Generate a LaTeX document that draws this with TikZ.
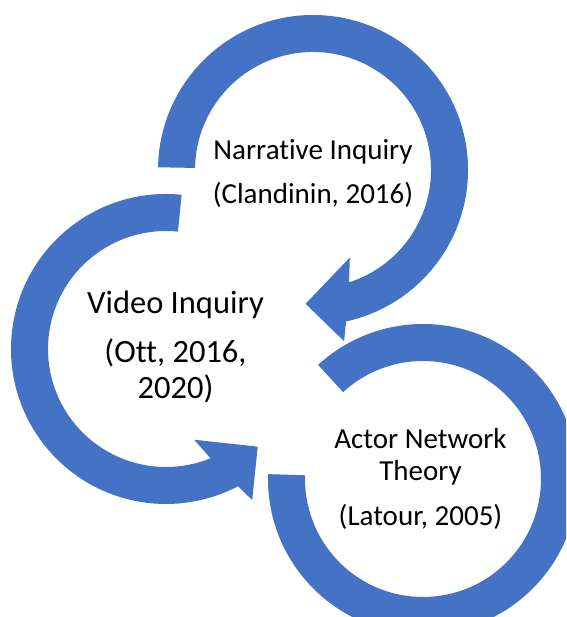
\documentclass[tikz,border=0pt]{standalone}
\usepackage{fontspec}
\setmainfont{Carlito}[Ligatures=CommonOff]
\begin{document}
\begin{tikzpicture}[x=1pt, y=1pt]
    \definecolor{cycblue}{RGB}{68,114,196}
    \tikzset{citetext/.style={font=\fontsize{29}{32}\selectfont, align=center, anchor=base}}

    \useasboundingbox (0,0) rectangle (566,617);
    \clip (0,0) rectangle (566,617);

    % circular arrows: centre x/y, start angle, outer end angle, turning sense
    \foreach \cx/\cy/\sa/\ea/\d in {313/447/179/-77.7/-1, 166/268/84.2/297.7/1} {
        \pgfmathsetmacro{\aw}{\ea+2*\d}
        \pgfmathsetmacro{\at}{\ea+15.5*\d}
        \pgfmathsetmacro{\ab}{\ea-10.5*\d}
        \pgfmathsetmacro{\ai}{\ea-5.5*\d}
        \fill[cycblue, shift={(\cx,\cy)}] (\sa:155pt) arc[start angle=\sa, end angle=\ea, radius=155pt]
            -- (\aw:174pt) -- (\at:134pt) -- (\ab:95pt) -- (\ai:118pt)
            arc[start angle=\ai, end angle=\sa, radius=118pt] -- cycle;
    }
    % open ring round the third label
    \fill[cycblue, shift={(423,138)}] (178.2:155pt) arc[start angle=178.2, end angle=492.6, radius=155pt]
        -- (492.6:118pt) arc[start angle=492.6, end angle=178.2, radius=118pt] -- cycle;

    % base anchor sits on the last line
    \node[citetext] (narr) at (313,413) {Narrative Inquiry\\[12.6pt](Clandinin, 2016)};
    \node[citetext, font=\fontsize{32.5}{36}\selectfont] (video) at (175.5,218.6) {Video Inquiry\\[13.2pt](Ott, 2016,\\2020)};
    \node[citetext] (ant) at (420.5,91.4) {Actor Network\\Theory\\[12.6pt](Latour, 2005)};
\end{tikzpicture}
\end{document}
